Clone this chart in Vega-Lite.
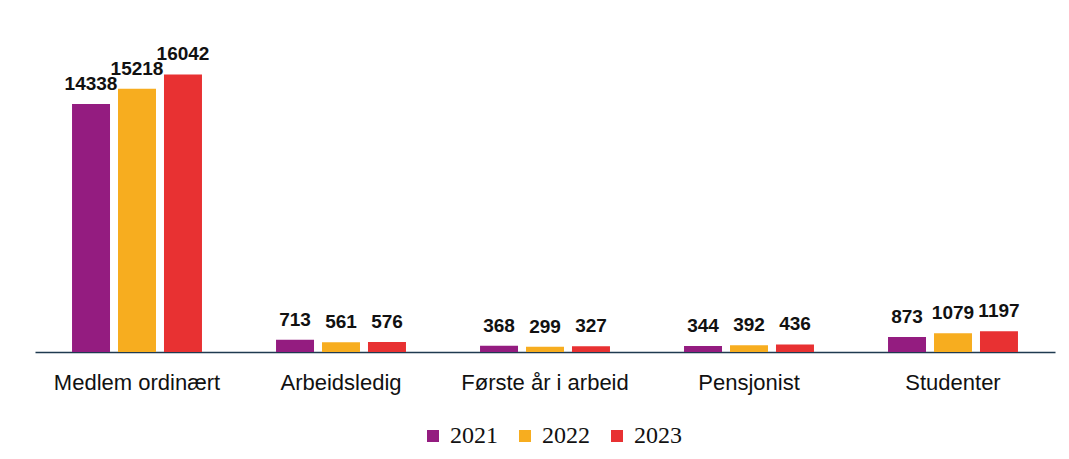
{
  "$schema": "https://vega.github.io/schema/vega-lite/v6.json",
  "width": 1020,
  "height": 346,
  "autosize": {"type": "none"},
  "padding": {"left": 35, "top": 6, "right": 14, "bottom": 107},
  "background": "white",
  "data": {
    "values": [
      {"kategori": "Medlem ordinært", "år": "2021", "antall": 14338},
      {"kategori": "Medlem ordinært", "år": "2022", "antall": 15218},
      {"kategori": "Medlem ordinært", "år": "2023", "antall": 16042},
      {"kategori": "Arbeidsledig", "år": "2021", "antall": 713},
      {"kategori": "Arbeidsledig", "år": "2022", "antall": 561},
      {"kategori": "Arbeidsledig", "år": "2023", "antall": 576},
      {"kategori": "Første år i arbeid", "år": "2021", "antall": 368},
      {"kategori": "Første år i arbeid", "år": "2022", "antall": 299},
      {"kategori": "Første år i arbeid", "år": "2023", "antall": 327},
      {"kategori": "Pensjonist", "år": "2021", "antall": 344},
      {"kategori": "Pensjonist", "år": "2022", "antall": 392},
      {"kategori": "Pensjonist", "år": "2023", "antall": 436},
      {"kategori": "Studenter", "år": "2021", "antall": 873},
      {"kategori": "Studenter", "år": "2022", "antall": 1079},
      {"kategori": "Studenter", "år": "2023", "antall": 1197}
    ]
  },
  "encoding": {
    "x": {
      "field": "kategori",
      "type": "nominal",
      "sort": null,
      "scale": {"paddingInner": 0.363, "paddingOuter": 0.1815},
      "axis": {
        "title": null,
        "labelAngle": 0,
        "ticks": false,
        "labelPadding": 20,
        "labelFont": "Liberation Sans",
        "labelFontSize": 22,
        "labelColor": "#111111",
        "domainColor": "#1F3A50",
        "domainWidth": 1.5
      }
    },
    "xOffset": {
      "field": "år",
      "type": "nominal",
      "scale": {"paddingInner": 0.174, "paddingOuter": 0}
    },
    "y": {
      "field": "antall",
      "type": "quantitative",
      "scale": {"domain": [0, 20000], "nice": false},
      "axis": null
    }
  },
  "layer": [
    {
      "mark": {"type": "bar"},
      "encoding": {
        "color": {
          "field": "år",
          "type": "nominal",
          "scale": {"domain": ["2021", "2022", "2023"], "range": ["#941C80", "#F7AD1F", "#E83132"]},
          "legend": {
            "title": null,
            "orient": "none",
            "direction": "horizontal",
            "legendX": 386,
            "legendY": 418,
            "symbolType": "square",
            "symbolSize": 144,
            "symbolStrokeWidth": 0,
            "labelFont": "Liberation Serif",
            "labelFontSize": 24,
            "labelColor": "#111111",
            "labelOffset": 5,
            "columnPadding": 15
          }
        }
      }
    },
    {
      "mark": {
        "type": "text",
        "baseline": "alphabetic",
        "dy": -14,
        "font": "Liberation Sans",
        "fontWeight": "bold",
        "fontSize": 19,
        "color": "#111111"
      },
      "encoding": {
        "text": {"field": "antall", "type": "quantitative", "format": "d"}
      }
    }
  ],
  "config": {
    "view": {"stroke": null}
  }
}
